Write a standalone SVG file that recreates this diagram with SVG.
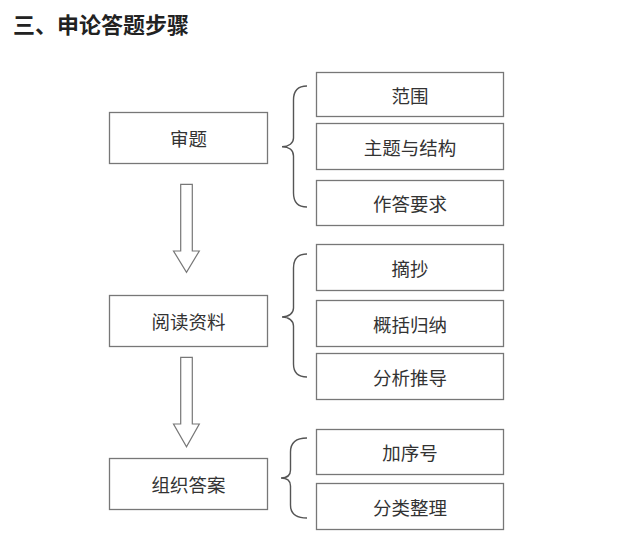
<svg xmlns="http://www.w3.org/2000/svg" width="620" height="552" viewBox="0 0 620 552">
<style>
.box{fill:#fff;stroke:#777;stroke-width:1.3}
.t{font-family:"Noto Sans CJK SC",sans-serif;font-size:18.5px;fill:#333;text-anchor:middle;dominant-baseline:central;font-weight:normal}
.title{font-family:"Noto Sans CJK SC",sans-serif;font-size:22px;font-weight:bold;fill:#222}
.brace{fill:none;stroke:#555;stroke-width:1.4}
.arrow{fill:#fff;stroke:#777;stroke-width:1.2}
</style>
<rect width="620" height="552" fill="#fff"/>
<text class="title" x="13" y="33">三、申论答题步骤</text>
<g id="shenti"><rect class="box" x="109.5" y="112.5" width="158" height="51"/><text class="t" x="188.5" y="138">审题</text></g>
<g id="yuedu"><rect class="box" x="109.5" y="295.5" width="158" height="51"/><text class="t" x="188.5" y="321">阅读资料</text></g>
<g id="zuzhi"><rect class="box" x="109.5" y="458.5" width="158" height="51"/><text class="t" x="188.5" y="484">组织答案</text></g>
<g id="fanwei"><rect class="box" x="316.5" y="72.5" width="187" height="44"/><text class="t" x="410" y="94.5">范围</text></g>
<g id="zhuti"><rect class="box" x="316.5" y="123.5" width="187" height="46"/><text class="t" x="410" y="146.5">主题与结构</text></g>
<g id="zuoda"><rect class="box" x="316.5" y="180.5" width="187" height="45"/><text class="t" x="410" y="203">作答要求</text></g>
<g id="zhaichao"><rect class="box" x="316.5" y="244.5" width="187" height="46"/><text class="t" x="410" y="267.5">摘抄</text></g>
<g id="gaikuo"><rect class="box" x="316.5" y="300.5" width="187" height="46"/><text class="t" x="410" y="323.5">概括归纳</text></g>
<g id="fenxi"><rect class="box" x="316.5" y="353.5" width="187" height="46"/><text class="t" x="410" y="376.5">分析推导</text></g>
<g id="xuhao"><rect class="box" x="316.5" y="429.5" width="187" height="45"/><text class="t" x="410" y="452">加序号</text></g>
<g id="fenlei"><rect class="box" x="316.5" y="483.5" width="187" height="46"/><text class="t" x="410" y="506.5">分类整理</text></g>
<g id="connectors">
<path class="brace" d="M307,86 C298,86 293.5,91 293.5,100 L293.5,138 C293.5,143 289,146.7 282,146.7 C289,146.7 293.5,150 293.5,156 L293.5,193 C293.5,202 298,207 307,207"/>
<path class="brace" d="M307,254 C298,254 293.5,259 293.5,268 L293.5,308 C293.5,313 289,317 282,317 C289,317 293.5,321 293.5,326 L293.5,364 C293.5,373 298,377 307,377"/>
<path class="brace" d="M307,438 C296,438 290.5,443 290.5,452 L290.5,470 C290.5,475 287,478 281,478 C287,478 290.5,481 290.5,486 L290.5,505 C290.5,513 296,518 307,518"/>
<path class="arrow" d="M180.7,184.3 L192.3,184.3 L192.3,251 L199.3,251 L186.5,272.3 L173.5,251 L180.7,251 Z"/>
<path class="arrow" d="M180.7,357.3 L192.3,357.3 L192.3,424 L199.3,424 L186.5,446.7 L173.5,424 L180.7,424 Z"/>
</g>
</svg>
